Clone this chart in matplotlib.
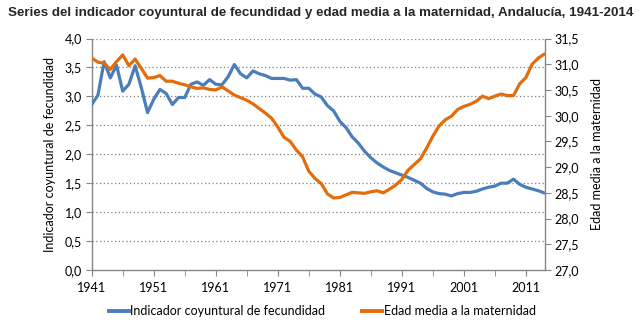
import numpy as np
import matplotlib.pyplot as plt
from matplotlib.ticker import FuncFormatter, MultipleLocator
from matplotlib.lines import Line2D

# años 1941-2014
years = list(range(1941, 2015))

icf = [2.86, 3.02, 3.60, 3.32, 3.54, 3.09, 3.21, 3.53, 3.15, 2.72,
       2.95, 3.12, 3.05, 2.86, 2.98, 2.98, 3.21, 3.25, 3.19, 3.29,
       3.21, 3.20, 3.34, 3.55, 3.39, 3.32, 3.44, 3.39, 3.36, 3.31,
       3.31, 3.31, 3.28, 3.29, 3.14, 3.14, 3.04, 2.99, 2.84, 2.75,
       2.57, 2.46, 2.30, 2.19, 2.05, 1.94, 1.85, 1.78, 1.72, 1.68,
       1.64, 1.60, 1.55, 1.50, 1.41, 1.35, 1.32, 1.31, 1.28, 1.32,
       1.34, 1.34, 1.36, 1.40, 1.43, 1.45, 1.50, 1.50, 1.57, 1.48,
       1.43, 1.40, 1.37, 1.33]

edad = [31.12, 31.04, 31.02, 30.90, 31.05, 31.18, 30.97, 31.10, 30.92, 30.73,
        30.74, 30.78, 30.67, 30.67, 30.63, 30.60, 30.56, 30.53, 30.54, 30.51,
        30.50, 30.56, 30.48, 30.40, 30.35, 30.30, 30.23, 30.14, 30.05, 29.95,
        29.78, 29.58, 29.50, 29.33, 29.20, 28.92, 28.78, 28.68, 28.48, 28.40,
        28.41, 28.46, 28.51, 28.50, 28.49, 28.52, 28.54, 28.50, 28.57, 28.65,
        28.76, 28.94, 29.05, 29.16, 29.37, 29.60, 29.80, 29.92, 29.99, 30.12,
        30.18, 30.22, 30.28, 30.38, 30.33, 30.38, 30.42, 30.39, 30.39, 30.62,
        30.74, 31.00, 31.12, 31.20]

label_icf = 'Indicador coyuntural de fecundidad'
label_edad = 'Edad media a la maternidad'
titulo = 'Series del indicador coyuntural de fecundidad y edad media a la maternidad, Andalucía, 1941-2014'

azul = '#4A7EBB'
naranja = '#E46C0A'
gris = '#868686'

plt.rcParams['font.family'] = ['Lato', 'DejaVu Sans']

fig = plt.figure(figsize=(6.44, 3.26), dpi=100)
ax = fig.add_axes([0.1424, 0.1718, 0.7031, 0.7101])
ax2 = ax.twinx()

ax.plot(years, icf, color=azul, lw=2.3, solid_capstyle='round', zorder=3)
ax2.plot(years, edad, color=naranja, lw=2.3, solid_capstyle='round', zorder=3)

coma = FuncFormatter(lambda v, p: f'{v:.1f}'.replace('.', ','))

ax.set_xlim(1941, 2014)
ax.set_ylim(0, 4)
ax2.set_ylim(27, 31.5)
ax.yaxis.set_major_locator(MultipleLocator(0.5))
ax2.yaxis.set_major_locator(MultipleLocator(0.5))
ax.yaxis.set_major_formatter(coma)
ax2.yaxis.set_major_formatter(coma)
ax.set_xticks(range(1941, 2015, 10))
ax.set_xticks(range(1946, 2015, 10), minor=True)

for v in np.arange(0.5, 4.01, 0.5):
    ax.axhline(v, color='#7f7f7f', lw=0.9, ls=(0, (1, 2)), zorder=1)

for a in (ax, ax2):
    a.spines['top'].set_visible(False)
    for s in ('left', 'right', 'bottom'):
        a.spines[s].set_color(gris)
        a.spines[s].set_linewidth(1.0)
ax.spines['right'].set_visible(False)
ax2.spines['left'].set_visible(False)
ax2.spines['bottom'].set_visible(False)

ax.tick_params(axis='both', which='both', direction='out', color=gris,
               length=4, labelsize=9, pad=3)
ax.tick_params(axis='x', pad=5)
ax2.tick_params(axis='y', direction='out', color=gris, length=4,
                labelsize=9, pad=3)

ax.set_ylabel(label_icf, fontsize=9, labelpad=6)
ax2.set_ylabel(label_edad, fontsize=9, labelpad=9)

# titulo: ajustar el tamaño para que ocupe ~628 px como en el original
t = fig.text(0.012, 0.96, titulo, fontsize=10, fontweight='bold', color='#262626',
             family=['Liberation Sans Narrow', 'Liberation Sans'], va='center', ha='left')
r = fig.canvas.get_renderer()
w = t.get_window_extent(renderer=r).width
t.set_fontsize(10 * 626 / w)

handles = [Line2D([], [], color=azul, lw=2.8), Line2D([], [], color=naranja, lw=2.8)]
fig.legend(handles, [label_icf, label_edad], loc='center', bbox_to_anchor=(0.5, 0.045),
           ncol=2, frameon=False, fontsize=9, handlelength=1.6, handletextpad=0.1,
           columnspacing=3.0)

fig.savefig('out.png', dpi=100)
